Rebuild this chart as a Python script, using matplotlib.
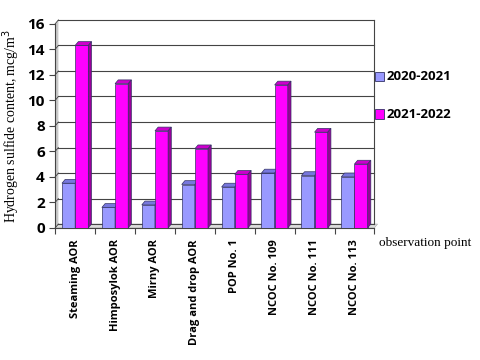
import matplotlib.pyplot as plt
import numpy as np
from matplotlib.patches import Polygon

categories = ["Steaming AOR", "Himposylok AOR", "Mirny AOR", "Drag and drop AOR",
              "POP No. 1", "NCOC No. 109", "NCOC No. 111", "NCOC No. 113"]
series_names = ["2020-2021", "2021-2022"]
vals_2020 = [3.5, 1.6, 1.8, 3.4, 3.2, 4.3, 4.1, 4.0]
vals_2021 = [14.3, 11.3, 7.6, 6.2, 4.2, 11.2, 7.5, 5.0]
yticks = list(range(0, 17, 2))

front = ["#9999FF", "#FF00FF"]
top_c = ["#7777DD", "#CC00CC"]
side_c = ["#5555AA", "#990099"]

DX, DY = 0.08, 0.3   # pseudo-3D depth in data units
W = 0.33


def bar3d(ax, x0, h, k):
    ax.add_patch(Polygon([(x0, 0), (x0 + W, 0), (x0 + W, h), (x0, h)],
                         closed=True, fc=front[k], ec="#333366", lw=0.5, zorder=3))
    ax.add_patch(Polygon([(x0, h), (x0 + W, h), (x0 + W + DX, h + DY), (x0 + DX, h + DY)],
                         closed=True, fc=top_c[k], ec="#333366", lw=0.5, zorder=3))
    ax.add_patch(Polygon([(x0 + W, 0), (x0 + W + DX, DY), (x0 + W + DX, h + DY), (x0 + W, h)],
                         closed=True, fc=side_c[k], ec="#333366", lw=0.5, zorder=3))


fig = plt.figure(figsize=(4.8, 3.6), dpi=100)
ax = fig.add_axes([0.115, 0.367, 0.665, 0.567])
x = np.arange(len(categories))
ax.set_xlim(-0.5, 7.5)
ax.set_ylim(0, 16)

# back wall gridlines and left wall
for t in yticks:
    ax.plot([-0.5 + DX, 7.5], [t + DY, t + DY], color="#444444", lw=0.8, zorder=1, clip_on=False)
    ax.plot([-0.5, -0.5 + DX], [t, t + DY], color="#444444", lw=0.6, zorder=1, clip_on=False)
ax.plot([7.5, 7.5], [DY, 16 + DY], color="#444444", lw=0.8, zorder=1, clip_on=False)
ax.add_patch(Polygon([(-0.5, 0), (-0.5 + DX, DY), (-0.5 + DX, 16 + DY), (-0.5, 16)],
                     closed=True, fc="#C8C8C8", ec="none", zorder=0, clip_on=False))
ax.add_patch(Polygon([(-0.5, 0), (7.5, 0), (7.5 + DX, DY), (-0.5 + DX, DY)],
                     closed=True, fc="#DDDDDD", ec="#AAAAAA", lw=0.4, zorder=0, clip_on=False))

for i in range(len(categories)):
    bar3d(ax, x[i] - W, vals_2020[i], 0)
    bar3d(ax, x[i], vals_2021[i], 1)

for s in ["top", "right"]:
    ax.spines[s].set_visible(False)
ax.spines["left"].set_color("#444444")
ax.spines["bottom"].set_color("#444444")

ax.set_yticks(yticks)
ax.set_yticklabels([str(t) for t in yticks], fontsize=11, fontweight="bold", family="Open Sans")
ax.set_xticks(np.arange(-0.5, 8, 1))
ax.set_xticklabels([])
ax.tick_params(axis="both", length=4, color="#444444")
for i, c in enumerate(categories):
    ax.text(x[i], -0.9, c, rotation=90, ha="center", va="top", fontsize=8,
            fontweight="bold", family="Open Sans")

ax.set_ylabel("Hydrogen sulfide content, mcg/m$^3$", family="Liberation Serif", fontsize=10)
fig.text(0.79, 0.325, "observation point", family="Liberation Serif", fontsize=9.5, va="center")

# legend
for k, yy in enumerate([0.787, 0.683]):
    fig.patches.append(plt.Rectangle((0.782, yy - 0.013), 0.017, 0.026, transform=fig.transFigure,
                                     fc=front[k], ec="#333366", lw=0.6))
    fig.text(0.805, yy, series_names[k], fontsize=9.5, fontweight="bold", family="Open Sans", va="center")

fig.savefig("out.png", dpi=100)
